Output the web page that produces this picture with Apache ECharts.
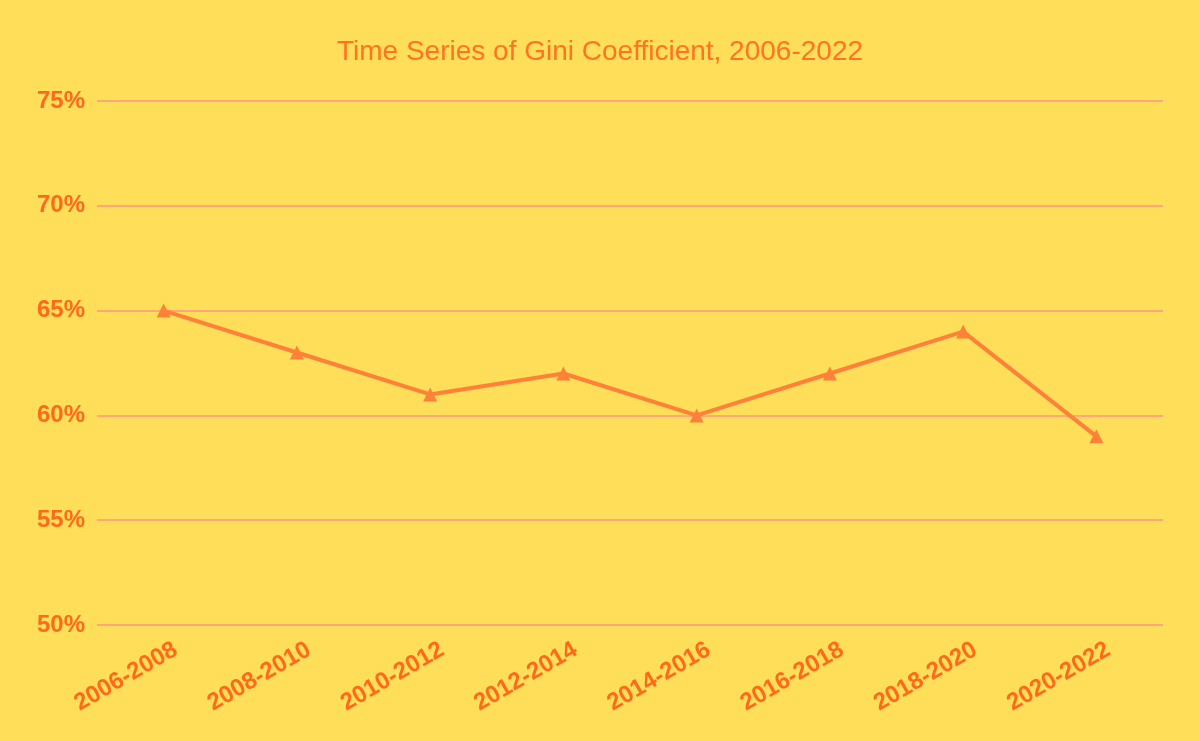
<!DOCTYPE html>
<html>
<head>
<meta charset="utf-8">
<script src="https://cdn.jsdelivr.net/npm/echarts@6/dist/echarts.min.js"></script>
<style>
  html, body { margin: 0; padding: 0; background: #FFDE59; }
  #main { width: 1200px; height: 741px; }
</style>
</head>
<body>
<div id="main"></div>
<script>
const periods = ['2006-2008', '2008-2010', '2010-2012', '2012-2014', '2014-2016', '2016-2018', '2018-2020', '2020-2022']
const giniValues = [65, 63, 61, 62, 60, 62, 64, 59]

const chart = echarts.init(document.getElementById('main'))
const option = {
  backgroundColor: '#FFDE59',
  textStyle: { fontFamily: 'Liberation Sans, Arial, sans-serif' },
  title: {
    text: 'Time Series of Gini Coefficient, 2006-2022',
    left: 'center',
    top: 33,
    textStyle: { color: '#FF7420', fontSize: 28, fontWeight: 'normal' },
  },
  grid: { left: 97, right: 37, top: 101, bottom: 116 },
  xAxis: {
    type: 'category',
    data: periods,
    boundaryGap: true,
    axisLine: { show: false },
    axisTick: { show: false },
    axisLabel: {
      color: '#FF6A1A',
      fontSize: 24,
      fontWeight: 'bold',
      rotate: 30,
      margin: 30,
      padding: [0, -14, 0, 0],
      interval: 0,
    },
  },
  yAxis: {
    type: 'value',
    min: 50,
    max: 75,
    interval: 5,
    axisLine: { show: false },
    axisTick: { show: false },
    splitLine: { lineStyle: { color: '#FFA77A', width: 2 } },
    axisLabel: {
      color: '#FF6A1A',
      fontSize: 24,
      fontWeight: 'bold',
      margin: 12,
      formatter: '{value}%',
    },
  },
  series: [
    {
      type: 'line',
      data: giniValues,
      symbol: 'triangle',
      symbolSize: 14,
      lineStyle: { color: '#FF8038', width: 4 },
      itemStyle: { color: '#FF8038' },
    },
  ],
}
chart.setOption(option)
</script>
</body>
</html>
